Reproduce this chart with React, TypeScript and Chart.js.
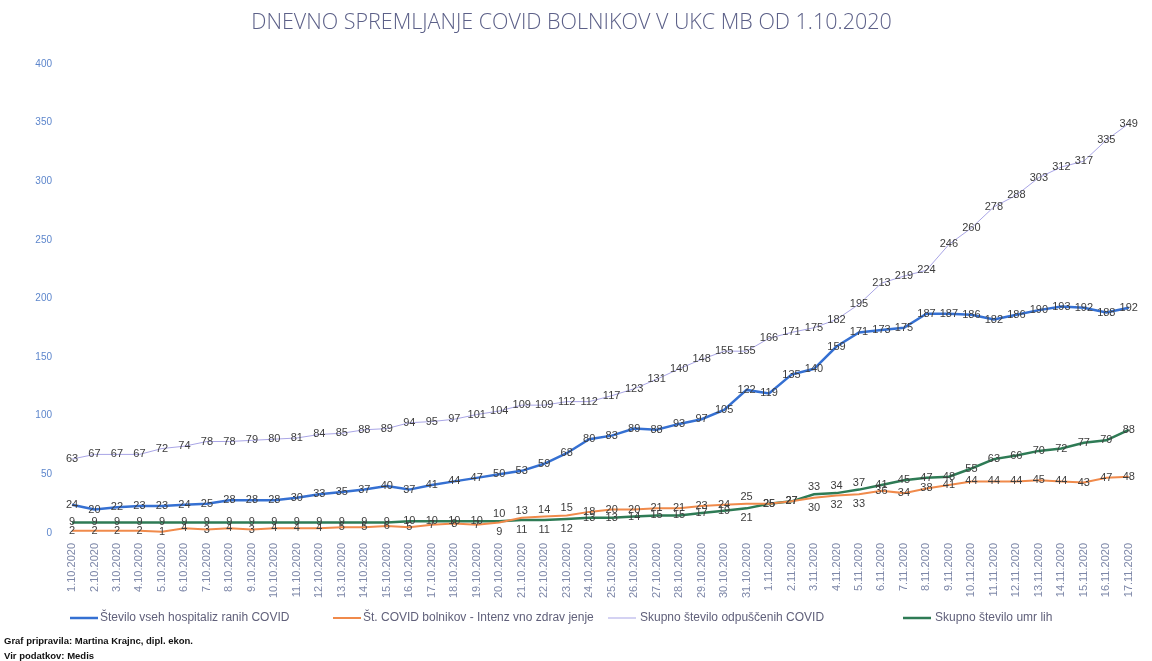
import React, { useEffect, useRef } from "react";
import { Chart, registerables } from "chart.js";

Chart.register(...registerables);

const TITLE = "DNEVNO SPREMLJANJE COVID BOLNIKOV V UKC MB OD 1.10.2020";

const dates = [
  "1.10.2020", "2.10.2020", "3.10.2020", "4.10.2020", "5.10.2020", "6.10.2020", "7.10.2020", "8.10.2020",
  "9.10.2020", "10.10.2020", "11.10.2020", "12.10.2020", "13.10.2020", "14.10.2020", "15.10.2020", "16.10.2020",
  "17.10.2020", "18.10.2020", "19.10.2020", "20.10.2020", "21.10.2020", "22.10.2020", "23.10.2020", "24.10.2020",
  "25.10.2020", "26.10.2020", "27.10.2020", "28.10.2020", "29.10.2020", "30.10.2020", "31.10.2020", "1.11.2020",
  "2.11.2020", "3.11.2020", "4.11.2020", "5.11.2020", "6.11.2020", "7.11.2020", "8.11.2020", "9.11.2020",
  "10.11.2020", "11.11.2020", "12.11.2020", "13.11.2020", "14.11.2020", "15.11.2020", "16.11.2020", "17.11.2020",
];

const hospitalized = [
  24, 20, 22, 23, 23, 24, 25, 28, 28, 28,
  30, 33, 35, 37, 40, 37, 41, 44, 47, 50,
  53, 59, 68, 80, 83, 89, 88, 93, 97, 105, 122,
  119, 135, 140, 159, 171, 173, 175, 187, 187, 186,
  182, 186, 190, 193, 192, 188, 192,
];

const intensive = [
  2, 2, 2, 2, 1, 4, 3, 4, 3, 4,
  4, 4, 5, 5, 6, 5, 7, 8, 7, 9,
  13, 14, 15, 18, 20, 20, 21, 21, 23, 24, 25,
  25, 27, 30, 32, 33, 36, 34, 38, 41, 44,
  44, 44, 45, 44, 43, 47, 48,
];

const discharged = [
  63, 67, 67, 67, 72, 74, 78, 78, 79, 80,
  81, 84, 85, 88, 89, 94, 95, 97, 101, 104,
  109, 109, 112, 112, 117, 123, 131, 140, 148, 155, 155,
  166, 171, 175, 182, 195, 213, 219, 224, 246, 260,
  278, 288, 303, 312, 317, 335, 349,
];

const deaths = [
  9, 9, 9, 9, 9, 9, 9, 9, 9, 9,
  9, 9, 9, 9, 9, 10, 10, 10, 10, 10,
  11, 11, 12, 13, 13, 14, 15, 15, 17, 19, 21,
  25, 27, 33, 34, 37, 41, 45, 47, 48, 55,
  63, 66, 70, 72, 77, 79, 88,
];

const seriesLabels = [
  "Število vseh hospitaliz ranih COVID",
  "Št. COVID bolnikov - Intenz vno zdrav jenje",
  "Skupno število odpuščenih COVID",
  "Skupno število umr lih",
];
const seriesColors = ["#3570D2", "#F08A4B", "#A9A5E6", "#2E7B55"];
const seriesWidths = [2.5, 2, 1, 2.5];

const footerLines = ["Graf pripravila: Martina Krajnc, dipl. ekon.", "Vir podatkov: Medis"];

const valueLabelPlugin = {
  id: "valueLabels",
  afterDatasetsDraw(chart: any) {
    const ctx = chart.ctx;
    ctx.save();
    ctx.font = '11px "Liberation Sans", sans-serif';
    ctx.fillStyle = "#3d3d3d";
    ctx.textAlign = "center";
    ctx.textBaseline = "middle";
    chart.data.datasets.forEach((ds: any, di: number) => {
      const meta = chart.getDatasetMeta(di);
      meta.data.forEach((pt: any, i: number) => {
        const v = ds.data[i];
        let y = pt.y;
        if ((di === 1 || di === 3) && i >= 19) {
          const oi = di === 1 ? 3 : 1;
          const other = chart.data.datasets[oi].data[i];
          if (v !== other && Math.abs(v - other) <= 4) {
            y = v > other ? pt.y - 7 : pt.y + 10;
          }
        }
        ctx.fillText(String(v), pt.x, y);
      });
    });
    ctx.restore();
  },
};

const legendFooterPlugin = {
  id: "legendFooter",
  afterDraw(chart: any) {
    const ctx = chart.ctx;
    ctx.save();
    const lines = [
      [70, 98, 100],
      [333, 361, 363],
      [608, 636, 640],
      [903, 931, 935],
    ];
    ctx.textBaseline = "middle";
    ctx.textAlign = "left";
    ctx.font = '12px "Liberation Sans", sans-serif';
    chart.data.datasets.forEach((ds: any, di: number) => {
      const [x1, x2, tx] = lines[di];
      ctx.strokeStyle = ds.borderColor;
      ctx.lineWidth = ds.borderWidth;
      ctx.beginPath();
      ctx.moveTo(x1, 618);
      ctx.lineTo(x2, 618);
      ctx.stroke();
      ctx.fillStyle = "#60607a";
      ctx.fillText(ds.label, tx, 618);
    });
    ctx.fillStyle = "#111";
    ctx.font = 'bold 9.5px "Liberation Sans", sans-serif';
    ctx.fillText(footerLines[0], 4, 641);
    ctx.fillText(footerLines[1], 4, 656);
    ctx.restore();
  },
};

export default function App() {
  const ref = useRef<HTMLCanvasElement | null>(null);
  useEffect(() => {
    if (!ref.current) return;
    const datasets = [hospitalized, intensive, discharged, deaths].map((d, i) => ({
      label: seriesLabels[i],
      data: d,
      borderColor: seriesColors[i],
      backgroundColor: seriesColors[i],
      borderWidth: seriesWidths[i],
      pointRadius: 0,
      tension: 0,
      fill: false,
    }));
    const chart = new Chart(ref.current, {
      type: "line",
      data: { labels: dates, datasets },
      options: {
        responsive: false,
        animation: false,
        layout: { padding: { left: 0, right: 9, top: 0, bottom: 56 } },
        plugins: {
          legend: { display: false },
          tooltip: { enabled: false },
          title: {
            display: true,
            text: TITLE,
            color: "#5c6088",
            font: { family: "'Open Sans', sans-serif", size: 21.5, weight: "300" as any },
            padding: { top: 10, bottom: 28 },
          },
        },
        scales: {
          x: {
            offset: false,
            grid: { display: false, drawTicks: false },
            border: { display: false },
            afterFit: (s: any) => { s.height = 72; },
            ticks: {
              autoSkip: false,
              minRotation: 90,
              maxRotation: 90,
              padding: 10,
              color: "#7d87a8",
              font: { family: "'Liberation Sans', sans-serif", size: 11 },
            },
          },
          y: {
            min: 0,
            max: 400,
            grid: { display: false, drawTicks: false },
            border: { display: false },
            afterFit: (s: any) => { s.width = 72; },
            ticks: {
              stepSize: 50,
              padding: 20,
              color: "#5d86cc",
              font: { family: "'Liberation Sans', sans-serif", size: 10 },
            },
          },
        },
      },
      plugins: [valueLabelPlugin, legendFooterPlugin],
    });
    return () => chart.destroy();
  }, []);
  return (
    <div style={{ position: "absolute", left: 0, top: 0, width: 1152, height: 661, background: "#fff" }}>
      <canvas ref={ref} width={1152} height={661} />
    </div>
  );
}
